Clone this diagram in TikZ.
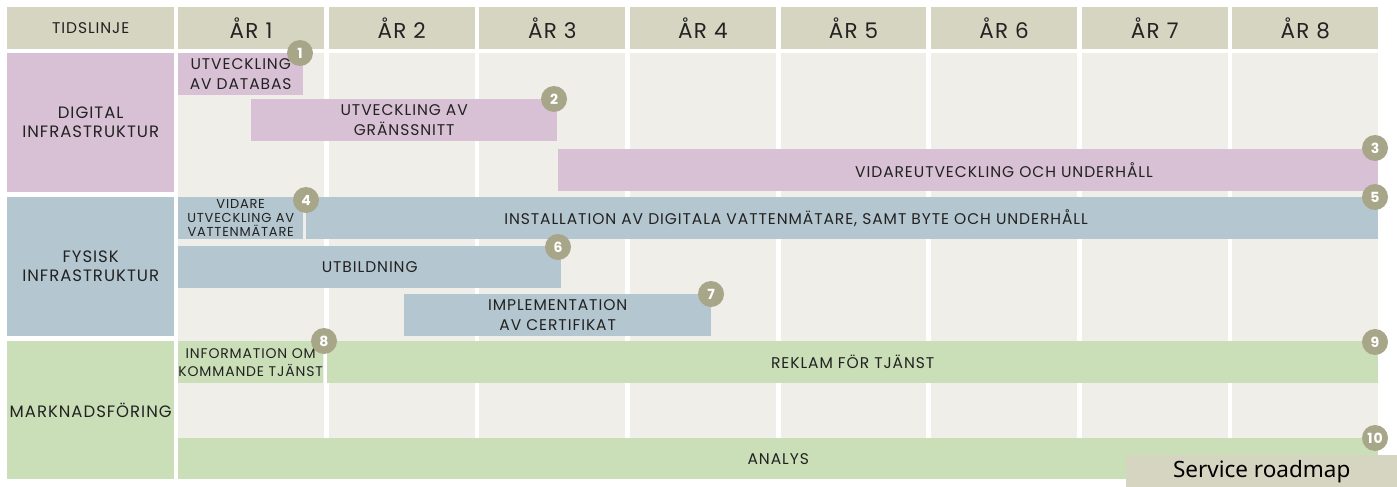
\documentclass[tikz,border=0pt]{standalone}
\usepackage{fontspec}
\setmainfont{Poppins}[LetterSpace=6]
\newfontfamily\roadfont{Noto Sans}
\definecolor{hdr}{HTML}{D6D5C2}
\definecolor{cell}{HTML}{EFEEE8}
\definecolor{digi}{HTML}{D8C1D5}
\definecolor{fys}{HTML}{B4C6CF}
\definecolor{mark}{HTML}{CADFB7}
\definecolor{badge}{HTML}{A8A689}
\definecolor{ink}{HTML}{222222}
\tikzset{
  box/.style={anchor=north west, inner sep=0pt, align=center, text=ink,
    font=\fontsize{15.5}{20}\selectfont},
  hdrbox/.style={box, fill=hdr, minimum width=145.8pt, minimum height=42pt,
    font=\fontsize{21.5}{24}\selectfont},
  rowbox/.style={box, fill=#1, minimum width=167pt, minimum height=139pt,
    font=\fontsize{16.5}{19}\selectfont},
  bar/.style={box, fill=#1},
  lbl/.style={inner sep=0pt, align=center, text=ink, font=\fontsize{15.5}{20}\selectfont},
  num/.style={circle, fill=badge, text=white, inner sep=0pt, minimum size=26pt,
    font=\bfseries\fontsize{14}{14}\selectfont},
}
\begin{document}
\begin{tikzpicture}[x=1pt,y=-1pt]
\useasboundingbox (0,0) rectangle (1397,487);
% header and grid
\node[hdrbox, minimum width=167pt, font=\fontsize{15.5}{17}\selectfont] (tid) at (7,7) {TIDSLINJE};
\foreach \i in {1,...,8} {
  \node[box, fill=cell, minimum width=145.8pt, minimum height=426pt] (col\i) at ({178+150.6*(\i-1)},53) {};
  \node[hdrbox] (yr\i) at ({178+150.6*(\i-1)},7) {ÅR \i};
}
% rows
\node[rowbox=digi] (digital) at (7,53) {DIGITAL\\INFRASTRUKTUR};
\node[rowbox=fys] (fysisk) at (7,197) {FYSISK\\INFRASTRUKTUR};
\node[rowbox=mark, minimum height=138pt] (marknad) at (7,341) {MARKNADSFÖRING};
% bars
\node[bar=digi, minimum width=125pt, minimum height=42pt] (b1) at (178,53) {UTVECKLING\\AV DATABAS};
\node[bar=digi, minimum width=306pt, minimum height=42pt] (b2) at (251,99) {UTVECKLING AV\\GRÄNSSNITT};
\node[bar=digi, minimum width=820pt, minimum height=42pt] (b3) at (558,149) {};
\node[lbl] (t3) at (1004,170) {VIDAREUTVECKLING OCH UNDERHÅLL};
\node[bar=fys, minimum width=125pt, minimum height=42pt, font=\fontsize{13}{14}\selectfont] (b4) at (178,197) {VIDARE\\UTVECKLING AV\\VATTENMÄTARE};
\node[bar=fys, minimum width=1072pt, minimum height=42pt] (b5) at (306,197) {};
\node[lbl] (t5) at (796,218) {INSTALLATION AV DIGITALA VATTENMÄTARE, SAMT BYTE OCH UNDERHÅLL};
\node[bar=fys, minimum width=383pt, minimum height=42pt] (b6) at (178,246) {UTBILDNING};
\node[bar=fys, minimum width=307pt, minimum height=42pt] (b7) at (404,294) {IMPLEMENTATION\\AV CERTIFIKAT};
\node[bar=mark, minimum width=145pt, minimum height=42pt, font=\fontsize{14}{18}\selectfont] (b8) at (178,341) {INFORMATION OM\\KOMMANDE TJÄNST};
\node[bar=mark, minimum width=1051pt, minimum height=42pt] (b9) at (327,341) {REKLAM FÖR TJÄNST};
\node[bar=mark, minimum width=1200pt, minimum height=41pt] (b10) at (178,438) {ANALYS};
% numbers
\node[num] (n1) at (300,53) {1};
\node[num] (n2) at (554,99) {2};
\node[num] (n3) at (1375,148) {3};
\node[num] (n4) at (306,200) {4};
\node[num] (n5) at (1375,197) {5};
\node[num] (n6) at (558,247) {6};
\node[num] (n7) at (711,294) {7};
\node[num] (n8) at (324,341) {8};
\node[num] (n9) at (1375,342) {9};
\node[num] (n10) at (1375,438) {10};
\node[box, fill=hdr, minimum width=271pt, minimum height=32pt, font=\roadfont\fontsize{22.5}{24}\selectfont, text=black] (road) at (1126,455) {Service roadmap};
\end{tikzpicture}
\end{document}
